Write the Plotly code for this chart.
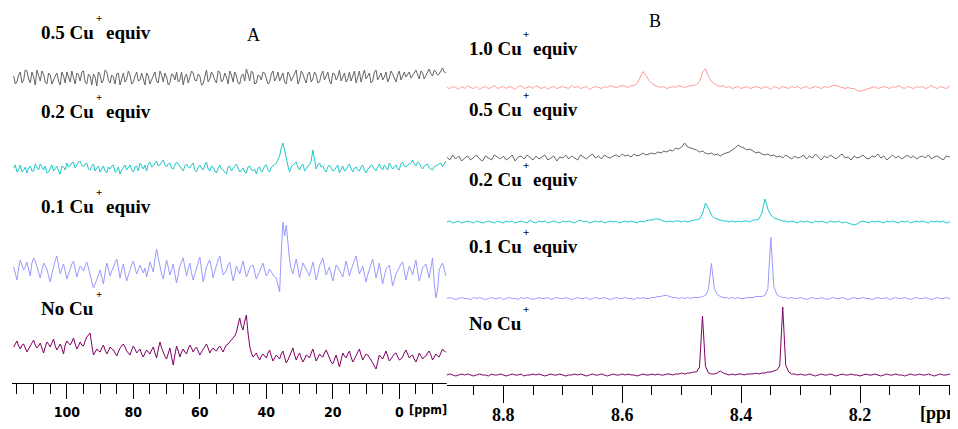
import numpy as np
import plotly.graph_objects as go

# ---------------- data ----------------
# Panel A: 13C-like spectra. Values at integer ppm (116 -> -14) and at the
# half-integer ppm points in between (115.5 -> -13.5).
ppm_A_int = np.arange(116, -14.5, -1.0)
ppm_A_half = np.arange(115.5, -14.0, -1.0)

A_05 = [2, -4, 6, -2, 7, -5, 1, 8, -3, 4, -6, 3, -1, 5, -7, 2, 6, -4, 0, 5,
        -3, 7, -6, 2, 4, -8, 3, -2, 6, -5, 1, 4, -7, 5, -1, 3, -4, 6, -2, 0,
        5, -6, 2, -3, 7, -4, 1, -5, 3, 6, -2, -7, 4, 0, 5, -3, 2, -6, 8, -1,
        3, -5, 6, -2, 1, 7, -4, 2, -6, 4, 9, -3, 5, -5, 2, 6, -1, -4, 7, 0,
        -3, 5, -6, 3, 1, 8, -2, 4, -5, 6, -1, 3, -4, 7, 2, -3, 5, -2, 8, 1,
        -4, 6, 2, -5, 7, 3, -1, 5, -3, 8, 2, -2, 6, 0, 4, -4, 7, 3, 1, 6,
        2, 8, -1, 5, 3, 9, 2, 6, 4, 10, 5]
A_05h = [-6, 3, -5, 8, -1, 6, -7, 2, 7, -4, 5, -6, 2, -3, 6, -5, 1, 7, -6, 3,
         6, -4, 4, -7, 1, 6, -5, 8, -2, 3, -6, 5, 0, -4, 7, -6, 2, -3, 5, -7,
         2, -1, 6, -5, 3, 5, -7, 4, -2, -4, 6, 1, -5, 7, -2, 4, -7, 3, -4, 6,
         -2, 7, -4, 5, -6, 3, 6, -5, 2, -3, 4, 7, -6, 3, -2, 5, -6, 4, -3, 6,
         2, -4, 6, -3, 5, -6, 7, -1, 4, -4, 6, -5, 3, -2, 6, -6, 4, 1, -3, 5,
         -1, -3, 7, 1, -4, 8, 2, -5, 6, -2, 5, 1, -4, 7, -1, 3, -2, 6, 4, 0,
         5, 3, 7, -1, 6, 4, 8, 3, 7, 6]
A_02 = [0, -4, 3, -2, -5, 2, -3, 1, 4, -2, -5, 0, -3, 2, -6, 1, 5, 2, 6, 3,
        7, 1, 5, -2, 4, 0, -4, 2, -5, -1, 3, -3, -6, 1, -2, 3, -4, 2, 5, -1,
        -3, 6, 2, 7, 3, 8, 1, 5, -1, 6, 2, -3, 4, 0, 5, -4, 3, -2, 6, -3,
        1, -5, 3, -2, -6, 2, -1, 4, -4, 0, -5, 2, -3, -6, 1, -2, 3, -4, 2, 5,
        12, 25, 9, -4, 3, 6, -2, 4, 0, 3, 18, -1, 5, 2, -4, 3, -3, 1, -5, 2,
        -2, 4, -4, 1, -3, 3, -5, 0, 2, -3, 4, -2, 1, 5, -1, 3, -2, 6, 1, 4,
        8, 2, 5, -1, 3, 0, -2, 2, 4, 1, 7]
A_02h = [3, -2, -4, 1, 0, -3, 4, -2, 1, 2, -4, 3, -1, -3, 2, -2, 1, 5, 0, 6,
         3, 4, -1, 2, -3, 2, -1, -3, 1, 2, -4, 1, -2, 3, 0, -2, 1, -3, 2, 3,
         4, 1, 5, 2, 6, 3, 4, 0, 3, 4, -1, 2, 1, 3, -2, 1, 0, 3, -1, 2,
         -3, 0, -1, -4, 1, -3, 2, 0, -2, -4, 1, -2, -1, 0, -4, 2, -2, 1, 3, 8,
         20, 18, 2, 1, 5, 1, 2, -3, 2, 7, 6, 3, 1, -2, 1, 0, -2, 3, -1, -3,
         2, -1, 0, -2, 1, -2, -1, 3, -1, 1, 0, 3, -2, 2, 1, -1, 4, 2, 3, 5,
         4, 6, 1, 2, 4, -1, 1, 3, 5, 4]
A_01 = [5, -8, 12, 2, 10, -4, 14, 6, -6, 9, 3, -10, 7, 16, -2, 8, -7, 4, 11, -5,
        6, 1, 10, -3, -16, -8, 2, -12, 9, -4, 5, 13, -6, 8, -9, 3, 11, -2, 7, -1,
        -5, 10, 0, 23, 4, -7, 12, -3, 8, -11, 6, 14, -4, 9, -8, 3, 15, -10, 5, 12,
        -6, 8, 16, -3, 2, 10, -9, 6, -2, 11, -5, 4, 7, -7, 1, 9, -4, 3, -3, -6,
        -20, 50, 47, 12, -2, 13, -6, 9, 3, -4, 10, -8, 6, 14, -3, 5, -9, 7, 2, -5,
        11, -4, 8, 16, -2, 6, -10, 4, 13, -6, 9, -12, 3, 7, -14, -2, 5, 10, -8, 6,
        -3, 12, -9, 4, 8, -6, 14, -26, 2, 9, -4]
A_01h = [-2, 4, 7, 5, 3, 9, 11, -1, 2, 6, -4, -2, 12, 6, 3, 1, -2, 8, 3, 1,
         4, 6, 4, -10, -12, -3, -5, -1, 3, 1, 10, 4, 2, -1, -3, 7, 5, 2, 3, 4,
         2, 5, 13, 14, -2, 3, 5, 2, -2, -3, 10, 5, 3, -1, -2, 9, 3, -3, 9, 4,
         1, 12, 6, -1, 7, 0, -2, 2, 5, 3, -1, 6, 0, -3, 5, 2, -1, 0, -5, -12,
         20, 36, 30, 3, 6, 4, 2, 6, -1, 3, 1, -2, 10, 5, 1, -2, -1, 5, -2, 3,
         4, 2, 12, 7, 2, -2, -3, 8, 4, 1, -2, -4, 5, -3, -8, 1, 8, 1, -1, 2,
         5, 1, -3, 6, 1, 4, -10, -18, 6, 3]
A_00 = [4, 10, 2, 7, -1, 5, 11, 3, 8, -2, 9, 4, 12, 1, 7, -3, 10, 6, 13, 2,
        9, 5, 14, 18, -4, 2, -1, 6, -3, 4, 1, -5, 3, 7, 0, -4, 5, -2, 2, -6,
        1, -3, 4, -7, 9, -2, -8, 3, -14, 5, -6, 2, -3, 6, -1, 4, -4, 2, 7, -2,
        3, 0, 5, -1, 6, 9, 13, 19, 33, 21, 36, 5, -6, -2, -9, -3, -7, 1, -10, -4,
        -8, 0, -12, -5, 3, -9, -2, -11, -4, -7, 2, -10, -3, -6, 1, -8, -13, -4, -16, -2,
        -7, 0, -11, -5, 2, -9, -3, -6, -12, -18, -4, -8, 0, -10, -5, -2, -9, -6, 1, -7,
        -4, -11, -2, -8, -5, 0, -9, -3, -6, 2, -1]
A_00h = [7, 5, 6, 3, 2, 9, 6, 5, 3, 4, 7, 8, 5, 4, 3, 6, 8, 9, 7, 5,
         6, 10, 16, 6, -1, 0, 3, 1, 0, 2, -2, -1, 5, 4, -2, 1, 2, 0, -3, -2,
         -1, 1, -2, 2, 3, -5, -3, -6, -4, 0, -1, -1, 2, 3, 2, 0, -1, 5, 3, 1,
         1, 3, 2, 3, 7, 11, 15, 27, 25, 30, 18, -2, -4, -6, -5, -5, -2, -5, -7, -6,
         -3, -6, -9, -1, -4, -5, -7, -8, -5, -2, -4, -7, -5, -2, -3, -11, -9, -10, -9, -5,
         -3, -6, -8, -1, -4, -6, -4, -9, -15, -11, -6, -4, -5, -8, -3, -6, -8, -2, -3, -5,
         -8, -7, -5, -6, -2, -4, -6, -5, -2, 0]

# Panel B: 1H spectra, ppm grid 8.895 -> 8.035 (0.005 ppm step)
ppm_B = np.round(8.895 - 0.005 * np.arange(173), 4)
B_10 = [0, -1, 1, 0, -2, 1, -1, 2, 0, -1, 1, -2, 0, 1, -1, 0, 2, -1, 0, 1,
        -1, 1, 0, -2, 1, 2, -1, 0, 1, -1, 2, 0, -1, 1, -2, 0, 1, -1, 0, 1,
        0, -1, 2, 0, 1, -1, 0, 1, -2, 0, 1, 0, -1, 1, 0, 2, 1, 0, 1, 2,
        1, 0, 2, 2, 4, 10, 16, 12, 7, 4, 2, 1, 0, 1, -1, 0, 1, 0, 2, 1,
        0, 1, 2, 2, 3, 6, 15, 19, 11, 6, 4, 2, 1, 2, 0, 1, -1, 0, 1, -1,
        0, 1, -1, 0, 1, 0, -1, 1, 0, -2, 1, 0, -1, 1, 0, -1, 1, 0, 1, -1,
        0, 1, -1, 0, 1, 0, -1, 1, 0, 1, 2, 2, 1, 0, -1, 0, -1, -1, -3, -4,
        -3, -2, -1, 0, 1, -1, 0, 1, 0, -1, 1, 0, 2, 0, -1, 1, 0, -1, 1, 0,
        1, -1, 0, 2, 0, -1, 1, 0, -1, 1, 0, 1, 0]
B_05 = [1, -2, 3, -1, 2, -3, 0, 2, -2, 1, 3, -1, -3, 2, 0, -2, 3, 1, -1, 2,
        -2, 0, 3, -3, 1, 2, -1, 3, 0, -2, 2, -1, 1, 3, -2, 0, 2, -3, 1, 0,
        3, -1, 2, 0, -2, 3, 1, -1, 2, 4, 0, 2, -1, 3, 1, 0, 2, 3, 1, 4,
        2, 3, 1, 4, 2, 3, 5, 3, 4, 5, 4, 6, 5, 7, 6, 8, 7, 10, 9, 11,
        15, 11, 10, 9, 8, 6, 7, 5, 4, 5, 3, 4, 2, 4, 5, 6, 8, 10, 13, 11,
        10, 8, 9, 7, 5, 6, 4, 3, 4, 2, 3, 1, 2, 0, 3, 1, -1, 2, 0, 1,
        3, -1, 2, 0, 4, 1, -2, 2, 0, 3, 1, -1, 2, 4, 0, 1, -2, 2, 0, 1,
        3, 0, -1, 2, 1, 4, 0, 2, -2, 1, 3, 0, 2, -1, 1, 3, 0, 2, -1, 1,
        2, 0, 3, -1, 1, 2, 0, -2, 2, 1, 3, 0, 2]
B_02 = [0, 1, -1, 0, 1, -1, 0, 1, 0, -1, 1, 0, -1, 0, 1, 0, -1, 1, 0, -1,
        1, 0, 1, -1, 0, 1, 0, -1, 2, 0, -1, 1, 0, 1, -1, 0, 1, 0, -1, 1,
        0, 1, 0, -1, 1, 2, 0, 1, -1, 0, 1, 0, 1, -1, 0, 1, 0, 1, -1, 0,
        1, 0, 1, 0, -1, 1, 0, 1, 2, 2, 3, 3, 2, 1, 0, 1, 0, 1, 1, 0,
        1, 0, 1, 2, 2, 3, 8, 19, 14, 7, 4, 3, 2, 1, 1, 0, 1, 0, 1, 0,
        1, 1, 0, 2, 2, 3, 9, 23, 13, 7, 4, 3, 2, 1, 1, 0, 1, 0, -1, 1,
        0, 1, 0, -1, 1, 0, 1, 0, -1, 1, 0, 0, 1, -1, 0, -1, -2, -3, -2, 0,
        1, 0, -1, 1, 0, 1, 0, -1, 1, 0, 1, 0, -1, 1, 0, 1, -1, 0, 1, 0,
        1, 0, -1, 1, 0, 1, 0, 1, -1, 0, 1, 0, 1]
B_01 = [0, 1, 0, -1, 0, 1, 0, 0, -1, 1, 0, 1, 0, -1, 0, 1, 0, 0, 1, -1,
        0, 1, 0, 0, -1, 1, 0, 1, 0, -1, 0, 1, 0, 0, 1, -1, 0, 1, 0, 0,
        1, 0, -1, 0, 1, 0, 0, 1, -1, 0, 1, 0, 0, 1, 0, -1, 0, 1, 0, 0,
        1, 0, 0, -1, 1, 0, 1, 0, 0, 1, 1, 2, 2, 3, 3, 2, 1, 1, 0, 1,
        0, 1, 0, 1, 1, 1, 2, 3, 9, 35, 10, 4, 2, 1, 1, 0, 1, 0, 1, 0,
        0, 1, 1, 1, 2, 2, 2, 3, 10, 61, 12, 4, 2, 1, 1, 0, 1, 0, 0, 1,
        0, -1, 0, 1, 0, 0, 1, 0, -1, 0, 1, 0, 0, 1, 0, -1, 0, 1, 0, 0,
        1, 0, 0, -1, 0, 1, 0, 0, 1, -1, 0, 1, 0, 0, 1, 0, -1, 0, 1, 0,
        0, 1, 0, -1, 0, 1, 0, 0, 1, 0, -1, 0, 1]
B_00 = [0, 1, 0, -1, 0, 1, 0, 1, 0, -1, 0, 1, 0, 0, -1, 1, 0, 0, 1, 0,
        -1, 0, 1, 0, 0, 1, -1, 0, 0, 1, 0, 1, 0, -1, 0, 1, 0, 0, 1, 0,
        -1, 0, 0, 1, 0, 1, 0, -1, 0, 1, 0, 0, 1, 0, -1, 0, 1, 0, 0, 1,
        0, 1, 0, 0, -1, 0, 1, 0, 0, 1, 0, 1, 0, 0, 1, 1, 0, 1, 1, 2,
        1, 2, 2, 3, 3, 8, 59, 9, 2, 1, 1, 2, 4, 2, 1, 0, 1, 0, 1, 1,
        0, 1, 1, 1, 2, 1, 2, 2, 3, 3, 4, 5, 9, 68, 10, 3, 1, 1, 0, 1,
        0, 0, 1, 0, -1, 0, 1, 0, 0, 1, 0, -1, 0, 1, 0, 0, 1, 0, 0, -1,
        0, 1, 0, 0, 1, 0, -1, 0, 1, 0, 0, 1, 0, 0, -1, 0, 1, 0, 0, 1,
        0, 0, 1, 0, -1, 0, 1, 0, 0, 1, 0, 0, 1]

labels_A = ["0.5 Cu", "0.2 Cu", "0.1 Cu", "No Cu"]
labels_B = ["1.0 Cu", "0.5 Cu", "0.2 Cu", "0.1 Cu", "No Cu"]

# ---------------- styling / layout ----------------
# The page body has an 8px margin, so the figure is drawn 8px smaller and all
# reference pixel positions are shifted by that margin.
WIN_W, WIN_H, OFF = 958, 429, 8
W, H = WIN_W - OFF, WIN_H - OFF
C_GRAY, C_CYAN, C_LAV, C_PUR, C_PINK = "#646464", "#1ec8c8", "#9a9aff", "#800064", "#ff9a9a"


def merge_A(v_int, v_half):
    """Put the integer-ppm and half-ppm samples together in ppm order."""
    x = np.concatenate([ppm_A_int, ppm_A_half])
    y = np.concatenate([np.asarray(v_int, float), np.asarray(v_half, float)])
    order = np.argsort(-x)
    return x[order], y[order]


# (values, colour, baseline pixel-row in window)
tracesA = [((A_05, A_05h), C_GRAY, 78), ((A_02, A_02h), C_CYAN, 168),
           ((A_01, A_01h), C_LAV, 272), ((A_00, A_00h), C_PUR, 351)]
tracesB = [(B_10, C_PINK, 87.5), (B_05, C_GRAY, 158), (B_02, C_CYAN, 222),
           (B_01, C_LAV, 298.5), (B_00, C_PUR, 375)]


def fx(x):  # window px -> paper fraction
    return (x - OFF) / W


def fy(y):
    return 1 - (y - OFF) / H


fig = go.Figure()
for (vi, vh), col, base in tracesA:
    xs, ys = merge_A(vi, vh)
    fig.add_trace(go.Scatter(x=xs, y=(WIN_H - base) + ys, mode="lines",
                             line=dict(color=col, width=1), xaxis="x", yaxis="y",
                             hoverinfo="skip"))
for vals, col, base in tracesB:
    fig.add_trace(go.Scatter(x=ppm_B, y=(WIN_H - base) + np.asarray(vals, float), mode="lines",
                             line=dict(color=col, width=1), xaxis="x2", yaxis="y2",
                             hoverinfo="skip"))

serif = "Liberation Serif, Times New Roman, serif"
narrow = "Liberation Sans Narrow, Arial Narrow, DejaVu Sans Condensed, sans-serif"

ann = []


def add_text(text, x, y, xanchor, family, size):
    ann.append(dict(text=text, x=fx(x), y=fy(y), xref="paper", yref="paper",
                    xanchor=xanchor, yanchor="middle", showarrow=False,
                    font=dict(family=family, size=size, color="black")))


def label(text, x0, yc, xplus, xequiv, equiv=True):
    add_text("<b>%s</b>" % text, x0, yc, "left", serif, 19)
    add_text("<b>+</b>", xplus, yc - 14.5, "center", serif, 11)
    if equiv:
        add_text("<b>equiv</b>", xequiv, yc, "left", serif, 19)


for t, yc in zip(labels_A, [33, 112, 206, 308]):
    label(t, 39, yc, 98.5, 104, equiv=(t != "No Cu"))
for t, yc in zip(labels_B, [49, 109.5, 179, 246.5, 323.5]):
    label(t, 467, yc, 526, 531, equiv=(t != "No Cu"))

add_text("A", 253, 35, "center", serif, 18)
add_text("B", 655, 21, "center", serif, 18)
add_text("<b>[ppm]</b>", 449, 409, "right", narrow, 12.5)
add_text("<b>[ppm]</b>", 918, 413, "left", serif, 18)

axis_common = dict(showline=True, linecolor="black", linewidth=1, ticks="outside",
                   tickcolor="black", tickwidth=1, showgrid=False, zeroline=False,
                   anchor="free", automargin=False, fixedrange=True)

fig.update_layout(
    width=W, height=H, margin=dict(l=0, r=0, t=0, b=0),
    paper_bgcolor="white", plot_bgcolor="white", showlegend=False,
    xaxis=dict(domain=[fx(12), fx(447)], range=[116.5, -14.35], position=fy(383),
               dtick=20, tick0=0, ticklen=15,
               minor=dict(dtick=5, tick0=0, ticklen=10, ticks="outside",
                          tickcolor="black", tickwidth=1),
               tickfont=dict(family=narrow, size=14, color="black", weight="bold"),
               ticklabelstandoff=1, **axis_common),
    xaxis2=dict(domain=[fx(446.7), 1.0], range=[8.8952, 8.0352], position=fy(385),
                dtick=0.2, tick0=8.0, tickformat=".1f", ticklen=17,
                minor=dict(dtick=0.05, tick0=8.0, ticklen=9, ticks="outside",
                           tickcolor="black", tickwidth=1),
                tickfont=dict(family=serif, size=18, color="black", weight="bold"),
                ticklabelstandoff=-4, **axis_common),
    yaxis=dict(domain=[0, 1], range=[0, H], visible=False, anchor="x", fixedrange=True),
    yaxis2=dict(domain=[0, 1], range=[0, H], visible=False, anchor="x2", fixedrange=True),
    annotations=ann,
)

fig.write_html("out.html")
